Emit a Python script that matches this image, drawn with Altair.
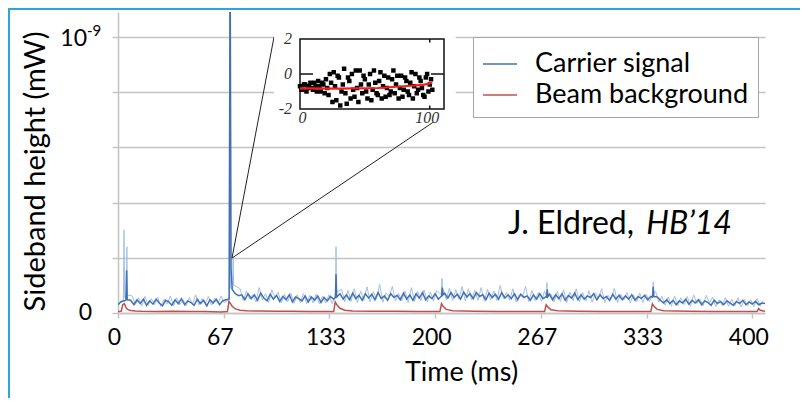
import altair as alt
import numpy as np
import pandas as pd

# ---------------- data (values in units of 1e-12 mW) ----------------
series = ["Carrier signal", "Beam background"]

# carrier signal, main trace, sampled every 2 ms (t = 0..408)
carrier_dark = [
    30, 42, 44, 48, 46, 30, 48, 34, 50, 28,
    44, 32, 50, 36, 26, 46, 40, 28, 48, 34,
    52, 30, 44, 38, 28, 50, 34, 46, 26, 48,
    36, 50, 30, 44, 48, 50, 85, 70, 63, 66,
    48, 70, 52, 66, 46, 72, 54, 44, 68, 50,
    64, 42, 60, 48, 66, 40, 58, 52, 44, 62,
    40, 58, 46, 62, 38, 56, 44, 60, 50, 58,
    70, 50, 66, 48, 72, 52, 64, 46, 70, 54,
    68, 48, 74, 52, 62, 46, 70, 56, 64, 48,
    72, 50, 66, 46, 70, 54, 74, 48, 62, 52,
    70, 50, 62, 72, 54, 74, 56, 68, 50, 76,
    58, 70, 52, 74, 60, 66, 48, 72, 56, 68,
    50, 74, 54, 66, 52, 70, 48, 68, 56, 62,
    46, 66, 50, 70, 52, 59, 68, 48, 66, 52,
    70, 46, 64, 54, 72, 48, 66, 50, 62, 56,
    70, 48, 66, 52, 60, 46, 68, 50, 64, 48,
    62, 50, 66, 46, 60, 52, 64, 48, 60, 60,
    58, 46, 36, 48, 34, 46, 30, 44, 36, 50,
    32, 46, 36, 48, 30, 44, 38, 28, 46, 34,
    42, 30, 44, 36, 28, 42, 34, 46, 30, 40,
    32, 42, 30, 36, 34,
]
# sharp peaks of the main trace at the injections
carrier_dark_peak_t = [5.0, 5.4, 5.8, 70.1, 70.7, 71.3, 137.1, 137.5, 137.9,
                       204.1, 204.5, 204.9, 270.3, 270.7, 271.1, 337.1, 337.5, 337.9]
carrier_dark_peak_v = [46, 155, 50, 52, 1300, 160, 56, 140, 62,
                       62, 92, 66, 58, 85, 60, 58, 95, 60]

# carrier signal, faint fast component, sampled every 2 ms (t = 1..407)
carrier_light = [
    38, 40, 60, 65, 62, 30, 55, 25, 60, 28,
    52, 30, 58, 24, 50, 32, 62, 27, 55, 30,
    48, 26, 57, 31, 66, 29, 52, 33, 60, 28,
    54, 35, 62, 38, 45, 90, 100, 95, 88, 45,
    80, 52, 66, 40, 92, 48, 70, 38, 84, 55,
    75, 36, 68, 40, 72, 35, 66, 38, 70, 34,
    64, 37, 69, 33, 62, 36, 66, 34, 60, 80,
    85, 40, 82, 42, 88, 38, 80, 45, 95, 40,
    78, 50, 104, 39, 72, 60, 96, 44, 70, 45,
    80, 38, 92, 42, 78, 44, 84, 40, 76, 43,
    82, 70, 85, 48, 90, 45, 85, 50, 96, 44,
    88, 48, 82, 46, 92, 43, 86, 47, 80, 45,
    100, 52, 74, 46, 88, 40, 66, 58, 96, 41,
    82, 45, 74, 42, 80, 60, 70, 40, 78, 42,
    84, 38, 76, 44, 88, 40, 74, 43, 80, 39,
    72, 54, 88, 38, 64, 50, 90, 37, 68, 48,
    74, 36, 66, 40, 72, 38, 68, 42, 60, 78,
    40, 60, 28, 58, 25, 62, 27, 55, 30, 60,
    24, 66, 34, 50, 26, 64, 36, 58, 23, 48,
    27, 56, 24, 50, 26, 55, 22, 50, 25, 48,
    23, 52, 24, 46,
]
carrier_light_peak_t = [3.4, 3.8, 4.2, 5.2, 5.6, 5.9, 70.1, 70.5, 70.9, 72.3, 72.6, 72.9,
                        137.1, 137.5, 137.8, 203.9, 204.3, 204.7, 270.1, 270.5, 270.9,
                        337.1, 337.5, 337.9]
carrier_light_peak_v = [45, 300, 55, 50, 240, 60, 48, 1300, 200, 85, 195, 105,
                        60, 240, 75, 68, 125, 72, 58, 110, 62,
                        60, 112, 70]

beam_t = [0, 2, 3, 4, 5, 6, 8, 11, 15, 25,
          35, 45, 55, 65, 69, 70, 71, 72, 74, 77,
          81, 90, 100, 110, 120, 130, 136, 137, 138, 140,
          143, 148, 160, 175, 190, 203, 204, 205, 207, 211,
          225, 240, 255, 269, 270, 271, 273, 277, 290, 305,
          320, 336, 337, 338, 340, 344, 360, 375, 390, 403,
          404, 405, 408]
beam_v = [5, 6, 30, 34, 20, 13, 9, 7, 6, 5,
          6, 5, 5, 4, 5, 42, 34, 24, 15, 10,
          8, 7, 6, 6, 5, 5, 5, 40, 30, 17,
          10, 7, 6, 6, 5, 5, 34, 24, 13, 8,
          6, 5, 5, 5, 30, 22, 12, 8, 6, 5,
          5, 5, 33, 24, 13, 8, 6, 5, 5, 5,
          16, 10, 6]

# inset (arbitrary units)
inset_y_even = [-0.7, -0.9, -0.6, -0.8, -0.5, -0.9, -0.7, -0.4, -1.0, -0.6,
                -0.3, -1.2, -0.5, 0.1, -1.5, -0.2, -1.0, 0.3, -1.7, -0.4,
                0.0, -1.3, -0.8, 0.2, -1.1, -0.3, -1.4, 0.0, -0.9, -0.5,
                -1.2, 0.1, -0.7, -1.3, -0.2, -1.0, 0.2, -0.6, -1.4, -0.1,
                -0.9, -0.4, -1.2, 0.1, -0.7, -1.1, -0.2, -0.8, -1.3, 0.0,
                -0.6, -0.9]
inset_y_odd = [-0.9, -0.6, -1.0, -0.7, -0.8, -0.5, -1.0, -0.7, -0.5, -1.1,
               -0.8, 0.0, -1.6, -0.7, -0.1, -1.8, -0.6, -1.1, -0.2, -1.4,
               -0.9, 0.2, -1.6, -0.6, -0.1, -1.0, -0.6, -1.5, 0.2, -1.1,
               -0.4, -1.4, -0.1, -0.8, -1.2, -0.3, -1.1, -0.1, -0.8, -1.3,
               -0.2, -1.0, -0.5, -1.4, 0.0, -0.9, -0.4, -1.2, -0.2, -1.0,
               -0.3]
fit_x = [0, 30, 60, 80, 95, 102]
fit_y = [-0.82, -0.84, -0.80, -0.70, -0.62, -0.50]

x_ticks = [0, 200 / 3, 400 / 3, 200, 800 / 3, 1000 / 3, 400]
y_grid = [0, 200, 400, 600, 800, 1000]

# ---------------- styling ----------------
FONT = "Lato"
SERIF = "Liberation Serif"
GRID = "#c4c4c4"
DARK = "#4271b3"
LIGHT = "#a3c0e4"
RED = "#c0504d"

dark_df = pd.concat([
    pd.DataFrame({"t": np.arange(0, 409, 2), "v": carrier_dark}),
    pd.DataFrame({"t": carrier_dark_peak_t, "v": carrier_dark_peak_v}),
]).sort_values("t")
dark_df["s"] = series[0]
beam_df = pd.DataFrame({"t": beam_t, "v": beam_v, "s": series[1]})
df_lines = pd.concat([dark_df, beam_df], ignore_index=True)
df_lines["o"] = np.arange(len(df_lines))

df_light = pd.concat([
    pd.DataFrame({"t": np.arange(1, 408, 2), "v": carrier_light}),
    pd.DataFrame({"t": carrier_light_peak_t, "v": carrier_light_peak_v}),
]).sort_values("t")

x_scale = alt.Scale(domain=[0, 408], nice=False, zero=False)
y_scale = alt.Scale(domain=[0, 1090], nice=False)

x_axis = alt.Axis(values=x_ticks, labelExpr="format(round(datum.value), 'd')",
                  grid=False, domainColor=GRID, domainWidth=1.5, tickColor=GRID,
                  tickWidth=1.5, tickSize=5, labelFont=FONT, labelFontSize=23,
                  labelColor="black", labelPadding=8, labelOffset=-4, labelFlush=False,
                  title="Time (ms)", titleFont=FONT, titleFontSize=27,
                  titleFontWeight="normal", titleColor="black", titleX=343, titleY=59,
                  titleAlign="center", titleBaseline="middle")
y_axis = alt.Axis(values=y_grid, labels=False, grid=True, gridColor=GRID, gridWidth=1.5,
                  domainColor=GRID, domainWidth=1.5, tickColor=GRID, tickWidth=1.5,
                  tickSize=6, title="Sideband height (mW)", titleFont=FONT,
                  titleFontSize=29, titleFontWeight="normal", titleColor="black",
                  titleX=-83, titleY=159, titleAngle=270, titleAlign="center",
                  titleBaseline="middle")

X = alt.X("t:Q", scale=x_scale, axis=x_axis)
Y = alt.Y("v:Q", scale=y_scale, axis=y_axis)

light = alt.Chart(df_light).mark_line(color=LIGHT, strokeWidth=1, clip=True).encode(
    x=X, y=Y)

lines = alt.Chart(df_lines).mark_line(strokeWidth=1.5, clip=True).encode(
    x=X, y=Y, order="o:Q",
    color=alt.Color("s:N", scale=alt.Scale(domain=series, range=[DARK, RED]),
                    legend=alt.Legend(title=None, orient="none", legendX=355, legendY=25,
                                      direction="vertical", strokeColor="#a6a6a6",
                                      fillColor="white", padding=9, symbolType="stroke",
                                      symbolSize=1156, symbolStrokeWidth=1.5,
                                      labelFont=FONT, labelFontSize=27, labelColor="black",
                                      labelOffset=17, rowPadding=0, labelLimit=400)),
)

zoom = alt.Chart(pd.DataFrame({"t": [71.9, 71.9], "v": [199, 199],
                               "t2": [98.4, 201.9], "v2": [1000, 703]})).mark_rule(
    color="#222", strokeWidth=1).encode(x=X, y=Y, x2="t2:Q", y2="v2:Q")

one = pd.DataFrame({"v": [0]})
ten = pd.DataFrame({"v": [1000]})
ylab0 = alt.Chart(one).mark_text(text="0", font=FONT, fontSize=23, align="right",
                                 baseline="middle", color="black").encode(
    x=alt.value(-26), y=Y)
ylab1 = alt.Chart(ten).mark_text(text="10", font=FONT, fontSize=23, align="right",
                                 baseline="middle", color="black", dy=2).encode(
    x=alt.value(-31), y=Y)
ylab1e = alt.Chart(ten).mark_text(text="-9", font=FONT, fontSize=15, align="left",
                                  baseline="middle", color="black", dy=-6).encode(
    x=alt.value(-31), y=Y)

credit_df = pd.DataFrame({"t": [246], "v": [286]})
credit1 = alt.Chart(credit_df).mark_text(text="J. Eldred,", font=FONT, fontSize=32,
                                         align="left", baseline="alphabetic",
                                         color="black").encode(x=X, y=Y)
credit_df2 = pd.DataFrame({"t": [333.1], "v": [286]})
credit2 = alt.Chart(credit_df2).mark_text(text="HB\u201914", font=FONT, fontSize=32,
                                          fontStyle="italic", align="left",
                                          baseline="alphabetic", color="black").encode(
    x=X, y=Y)

base1 = alt.Chart(pd.DataFrame({"k": [0]}))
border_left = base1.mark_rule(color="#2aa6df", strokeWidth=2).encode(
    x=alt.value(-109), y=alt.value(-4), y2=alt.value(386))
border_top = base1.mark_rule(color="#2aa6df", strokeWidth=2).encode(
    x=alt.value(-110), x2=alt.value(682), y=alt.value(-3))

main = alt.layer(light, lines, zoom, ylab0, ylab1, ylab1e, credit1, credit2,
                 border_left, border_top)

# ---------------- inset ----------------
ix_scale = alt.Scale(domain=[0, 111], range=[182, 326], nice=False, zero=False)
iy_scale = alt.Scale(domain=[-2, 2], range=[97, 27], nice=False, zero=False)
IX = alt.X("ix:Q", scale=ix_scale, axis=None)
IY = alt.Y("iy:Q", scale=iy_scale, axis=None)

inset_bg = alt.Chart(pd.DataFrame({"ix": [-20], "ix2": [120], "iy": [-2.75], "iy2": [2.5]})
                     ).mark_rect(fill="white").encode(x=IX, x2="ix2:Q", y=IY, y2="iy2:Q")
inset_box = alt.Chart(pd.DataFrame({"ix": [0], "ix2": [111], "iy": [-2], "iy2": [2]})
                      ).mark_rect(fill=None, stroke="#111", strokeWidth=1.5).encode(
    x=IX, x2="ix2:Q", y=IY, y2="iy2:Q")
inset_ticks = alt.Chart(pd.DataFrame({"ix": [0, 101, 100, 100], "ix2": [10, 111, 100, 100],
                                      "iy": [0, 0, 2, -2], "iy2": [0, 0, 1.8, -1.8]})
                        ).mark_rule(color="#111", strokeWidth=1.5).encode(
    x=IX, x2="ix2:Q", y=IY, y2="iy2:Q")
df_pts = pd.concat([
    pd.DataFrame({"ix": np.arange(0, 103, 2), "iy": inset_y_even}),
    pd.DataFrame({"ix": np.arange(1, 102, 2), "iy": inset_y_odd}),
])
inset_pts = alt.Chart(df_pts).mark_square(size=20, color="black", opacity=1).encode(
    x=IX, y=IY)
inset_fit = alt.Chart(pd.DataFrame({"ix": fit_x, "iy": fit_y})).mark_line(
    color="#ff1a1a", strokeWidth=2.2).encode(x=IX, y=IY)
inset_ylab = alt.Chart(pd.DataFrame({"ix": [0, 0, 0], "iy": [2, 0, -2], "lab": ["2", "0", "-2"]})
                       ).mark_text(font=SERIF, fontStyle="italic", fontSize=16, align="right",
                                   baseline="middle", dx=-8, color="#333").encode(
    x=IX, y=IY, text="lab:N")
inset_xlab = alt.Chart(pd.DataFrame({"ix": [2, 98], "iy": [-2, -2], "lab": ["0", "100"]})
                       ).mark_text(font=SERIF, fontStyle="italic", fontSize=16, align="center",
                                   baseline="top", dy=1, color="#333").encode(
    x=IX, y=IY, text="lab:N")

inset = alt.layer(inset_bg, inset_box, inset_ticks, inset_pts, inset_fit, inset_ylab,
                  inset_xlab)

chart = alt.layer(main, inset).resolve_scale(x="independent", y="independent").properties(
    width=647, height=301,
    padding={"left": 110, "top": 4, "right": 35, "bottom": 85},
    autosize=alt.AutoSizeParams(type="none"),
    background="white",
).configure_view(stroke=None)

chart.save("out.html", embed_options={"renderer": "svg", "actions": False})
